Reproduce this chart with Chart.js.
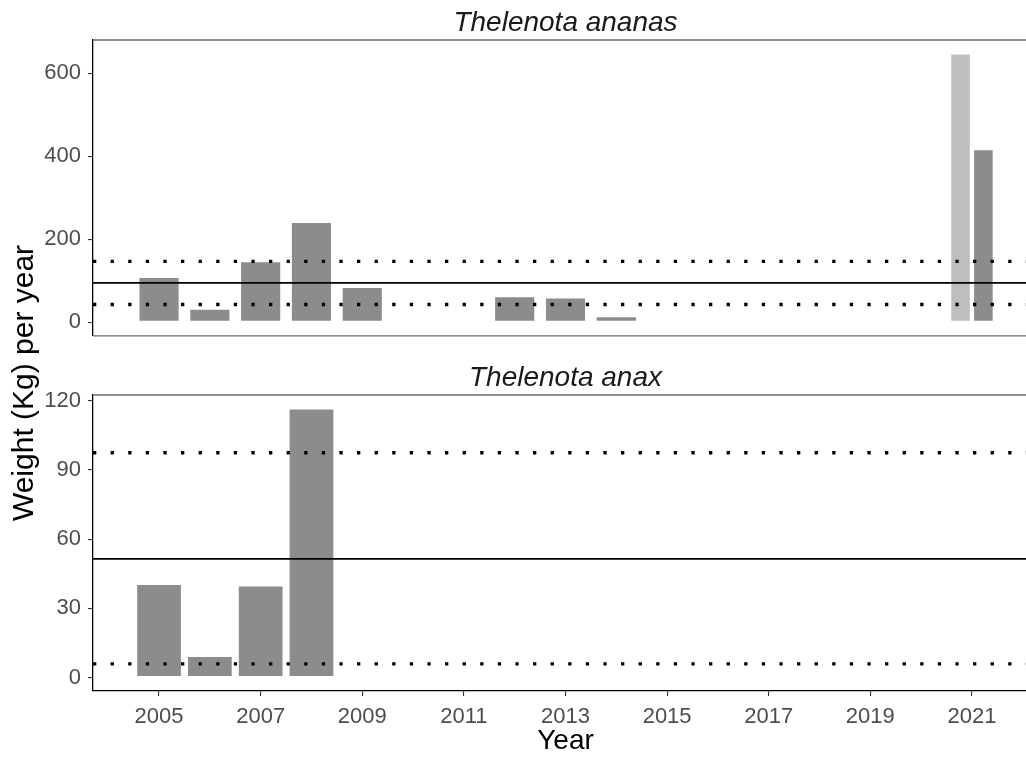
<!DOCTYPE html>
<html>
<head>
<meta charset="utf-8">
<script src="https://cdn.jsdelivr.net/npm/chart.js@4.4.1/dist/chart.umd.min.js"></script>
<style>
  html, body { margin: 0; padding: 0; background: #fff; overflow: hidden; width: 1026px; height: 758px; }
  canvas { position: absolute; left: 0; top: 0; }
</style>
</head>
<body>
<canvas id="anaxChart" width="1040" height="758"></canvas>
<canvas id="ananasChart" width="1040" height="356"></canvas>
<script>
const FONT = '"Liberation Sans", Arial, sans-serif';

// Thelenota ananas
const ananasYears = [2005, 2006, 2007, 2008, 2009, 2012, 2013, 2014, 2021];
const ananasWeight = [109, 33, 147, 242, 85, 63, 60, 15, 417];
const ananasWeightLight = [null, null, null, null, null, null, null, null, 648];
const ananasMean = 95;
const ananasBand = [43, 147];
const ananasTicks = [0, 200, 400, 600];

// Thelenota anax
const anaxYears = [2005, 2006, 2007, 2008];
const anaxWeight = [40.5, 9.3, 39.9, 116.6];
const anaxMean = 51.4;
const anaxBand = [5.9, 97.4];
const anaxTicks = [0, 30, 60, 90, 120];

const yearTicks = [2005, 2007, 2009, 2011, 2013, 2015, 2017, 2019, 2021];
const yearMin = 2003.7;
const yearMax = 2022.3;

// mean / band lines, strip title and panel lines
const panelDecor = {
    id: 'panelDecor',
    afterDatasetsDraw(chart, args, opts) {
        const ctx = chart.ctx;
        const a = chart.chartArea;
        const y = chart.scales.y;
        ctx.save();
        ctx.strokeStyle = '#000';
        ctx.lineWidth = 1.7;
        ctx.beginPath();
        ctx.moveTo(a.left, y.getPixelForValue(opts.mean));
        ctx.lineTo(a.right, y.getPixelForValue(opts.mean));
        ctx.stroke();

        ctx.lineWidth = 3.3;
        ctx.lineCap = 'butt';
        ctx.setLineDash([3.3, 14.3]);
        opts.band.forEach(function (v) {
            ctx.beginPath();
            ctx.moveTo(a.left, y.getPixelForValue(v));
            ctx.lineTo(a.right, y.getPixelForValue(v));
            ctx.stroke();
        });
        ctx.restore();
    },
    afterDraw(chart, args, opts) {
        const ctx = chart.ctx;
        const a = chart.chartArea;
        ctx.save();
        ctx.strokeStyle = '#6e6e6e';
        ctx.lineWidth = 1.3;
        ctx.beginPath();
        ctx.moveTo(a.left, a.top);
        ctx.lineTo(a.right, a.top);
        if (opts.bottomLine) {
            ctx.moveTo(a.left, a.bottom);
            ctx.lineTo(a.right, a.bottom);
        }
        ctx.stroke();

        ctx.fillStyle = '#1a1a1a';
        ctx.font = 'italic 28px ' + FONT;
        ctx.textAlign = 'center';
        ctx.textBaseline = 'alphabetic';
        ctx.fillText(opts.title, (a.left + a.right) / 2, a.top - 9);

        if (opts.yTitle) {
            ctx.fillStyle = '#000';
            ctx.font = '30px ' + FONT;
            ctx.translate(33, 383);
            ctx.rotate(-Math.PI / 2);
            ctx.fillText(opts.yTitle, 0, 0);
        }
        ctx.restore();
    }
};

function yAxis(ticks, max) {
    return {
        min: -0.05 * max,
        max: 1.05 * max,
        afterBuildTicks: function (s) { s.ticks = ticks.map(function (v) { return { value: v }; }); },
        afterFit: function (s) { s.width = 93; },
        ticks: { color: '#4d4d4d', font: { family: FONT, size: 22 }, padding: 7 },
        grid: { drawOnChartArea: false, tickLength: 5, color: '#333', lineWidth: 1.1 },
        border: { color: '#000', width: 1.3 }
    };
}

// the upper panel keeps the year scale for bar placement but draws none of it
function xAxis(show) {
    return {
        type: 'linear',
        offset: false,
        min: yearMin,
        max: yearMax,
        afterBuildTicks: function (s) { s.ticks = yearTicks.map(function (v) { return { value: v }; }); },
        afterFit: function (s) { s.height = show ? 67 : 0; },
        ticks: {
            display: show,
            callback: function (v) { return String(v); },
            color: '#4d4d4d', font: { family: FONT, size: 22 }, padding: 8,
            maxRotation: 0, autoSkip: false
        },
        grid: { display: show, drawOnChartArea: false, offset: false, tickLength: 5, color: '#333', lineWidth: 1.1 },
        border: { display: show, color: '#000', width: 1.3 },
        title: { display: show, text: 'Year', color: '#000', font: { family: FONT, size: 28 }, padding: 0 }
    };
}

const barStyle = {
    borderColor: 'rgba(255,255,255,0.55)',
    borderWidth: 1,
    borderSkipped: false,
    skipNull: true
};

const ananasMax = Math.max.apply(null, ananasWeight.concat(ananasWeightLight.filter(function (v) { return v !== null; })));

new Chart(document.getElementById('ananasChart'), {
    type: 'bar',
    data: {
        labels: ananasYears,
        datasets: [
            Object.assign({ data: ananasWeightLight, backgroundColor: '#bebebe' }, barStyle),
            Object.assign({ data: ananasWeight, backgroundColor: '#8c8c8c' }, barStyle)
        ]
    },
    options: {
        responsive: false,
        animation: false,
        devicePixelRatio: 1,
        categoryPercentage: 0.9,
        barPercentage: 0.9,
        layout: { padding: { top: 40, bottom: 5, left: 0, right: 2 } },
        scales: { x: xAxis(false), y: yAxis(ananasTicks, ananasMax) },
        plugins: {
            legend: { display: false },
            tooltip: { enabled: false },
            panelDecor: { title: 'Thelenota ananas', mean: ananasMean, band: ananasBand, bottomLine: true }
        }
    },
    plugins: [panelDecor]
});

new Chart(document.getElementById('anaxChart'), {
    type: 'bar',
    data: {
        labels: anaxYears,
        datasets: [
            Object.assign({ data: anaxWeight, backgroundColor: '#8c8c8c' }, barStyle)
        ]
    },
    options: {
        responsive: false,
        animation: false,
        devicePixelRatio: 1,
        categoryPercentage: 1,
        barPercentage: 0.9,
        layout: { padding: { top: 395, bottom: 0, left: 0, right: 2 } },
        scales: { x: xAxis(true), y: yAxis(anaxTicks, Math.max.apply(null, anaxWeight)) },
        plugins: {
            legend: { display: false },
            tooltip: { enabled: false },
            panelDecor: { title: 'Thelenota anax', mean: anaxMean, band: anaxBand, yTitle: 'Weight (Kg) per year' }
        }
    },
    plugins: [panelDecor]
});
</script>
</body>
</html>
